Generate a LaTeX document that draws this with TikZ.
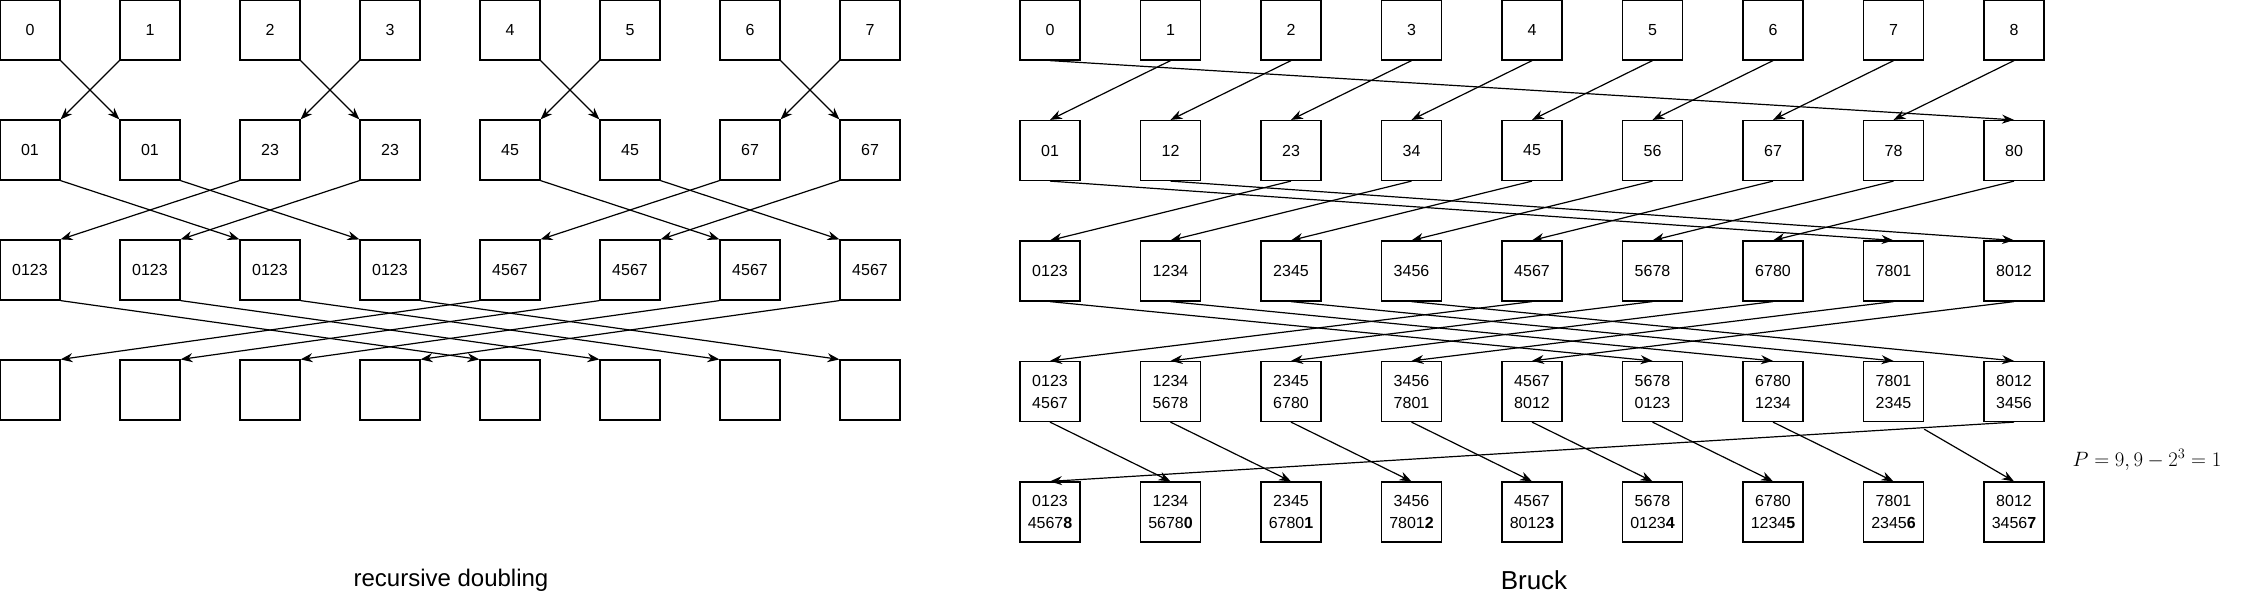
\documentclass[tikz,border=0pt]{standalone}
\usepackage{fontspec}
\setmainfont{Liberation Sans}
\usetikzlibrary{arrows.meta}
\tikzset{
  cell/.style={draw, line width=1.2pt, minimum width=60pt, minimum height=60pt, inner sep=0pt,
    align=center, font=\fontsize{16}{22}\selectfont},
  link/.style={line width=1.2pt, -{Stealth[length=12pt,width=9pt]}},
}
\begin{document}
\begin{tikzpicture}[x=1pt,y=-1pt]
\useasboundingbox (0,0) rectangle (2252,603);
% recursive doubling
\foreach \t [count=\i from 0] in {0,1,2,3,4,5,6,7}
  \node[cell] (l0\i) at (30+120*\i,30) {\t};
\foreach \t [count=\i from 0] in {01,01,23,23,45,45,67,67}
  \node[cell] (l1\i) at (30+120*\i,150) {\t};
\foreach \t [count=\i from 0] in {0123,0123,0123,0123,4567,4567,4567,4567}
  \node[cell] (l2\i) at (30+120*\i,270) {\t};
\foreach \i in {0,...,7}
  \node[cell] (l3\i) at (30+120*\i,390) {};
\foreach \a/\b in {0/1,2/3,4/5,6/7} {
  \draw[link] (l0\a.south east) -- (l1\b.north west);
  \draw[link] (l0\b.south west) -- (l1\a.north east);
}
\foreach \a/\b in {0/2,1/3,4/6,5/7} {
  \draw[link] (l1\a.south east) -- (l2\b.north west);
  \draw[link] (l1\b.south west) -- (l2\a.north east);
}
\foreach \a/\b in {0/4,1/5,2/6,3/7} {
  \draw[link] (l2\a.south east) -- (l3\b.north west);
  \draw[link] (l2\b.south west) -- (l3\a.north east);
}
\node[font=\fontsize{24}{26}\selectfont] (ltitle) at (451,580) {recursive doubling};
% Bruck
\foreach \t [count=\i from 0] in {0,1,2,3,4,5,6,7,8}
  \node[cell] (b0\i) at (1050+120.5*\i,30) {\t};
\foreach \t [count=\i from 0] in {01,12,23,34,45,56,67,78,80}
  \node[cell] (b1\i) at (1050+120.5*\i,150.5) {\t};
\foreach \t [count=\i from 0] in {0123,1234,2345,3456,4567,5678,6780,7801,8012}
  \node[cell] (b2\i) at (1050+120.5*\i,271) {\t};
\foreach \t [count=\i from 0] in {0123\\4567,1234\\5678,2345\\6780,3456\\7801,4567\\8012,5678\\0123,6780\\1234,7801\\2345,8012\\3456}
  \node[cell] (b3\i) at (1050+120.5*\i,391.5) {\t};
\foreach \t/\s [count=\i from 0] in {0123\\4567/8,1234\\5678/0,2345\\6780/1,3456\\7801/2,4567\\8012/3,5678\\0123/4,6780\\1234/5,7801\\2345/6,8012\\3456/7}
  \node[cell] (b4\i) at (1050+120.5*\i,512) {\t\textbf{\s}};
\foreach \i in {0,...,8} {
  \pgfmathtruncatemacro\j{mod(\i+1,9)}
  \draw[link] (b0\j.south) -- (b1\i.north);
  \pgfmathtruncatemacro\j{mod(\i+2,9)}
  \draw[link] (b1\j.south) -- (b2\i.north);
  \pgfmathtruncatemacro\j{mod(\i+4,9)}
  \draw[link] (b2\j.south) -- (b3\i.north);
}
\foreach \i in {0,...,6} {
  \pgfmathtruncatemacro\j{\i+1}
  \draw[link] (b3\i.south) -- (b4\j.north);
}
\draw[link] ([yshift=-7pt]b37.south east) -- (b48.north);
\draw[link] (b38.south) -- (b40.north);
\node[font=\fontsize{26}{28}\selectfont] (rtitle) at (1534,580) {Bruck};
\node[font=\fontsize{21}{24}\selectfont] (pnote) at (2147,460) {$P=9,9-2^3=1$};
\end{tikzpicture}
\end{document}
